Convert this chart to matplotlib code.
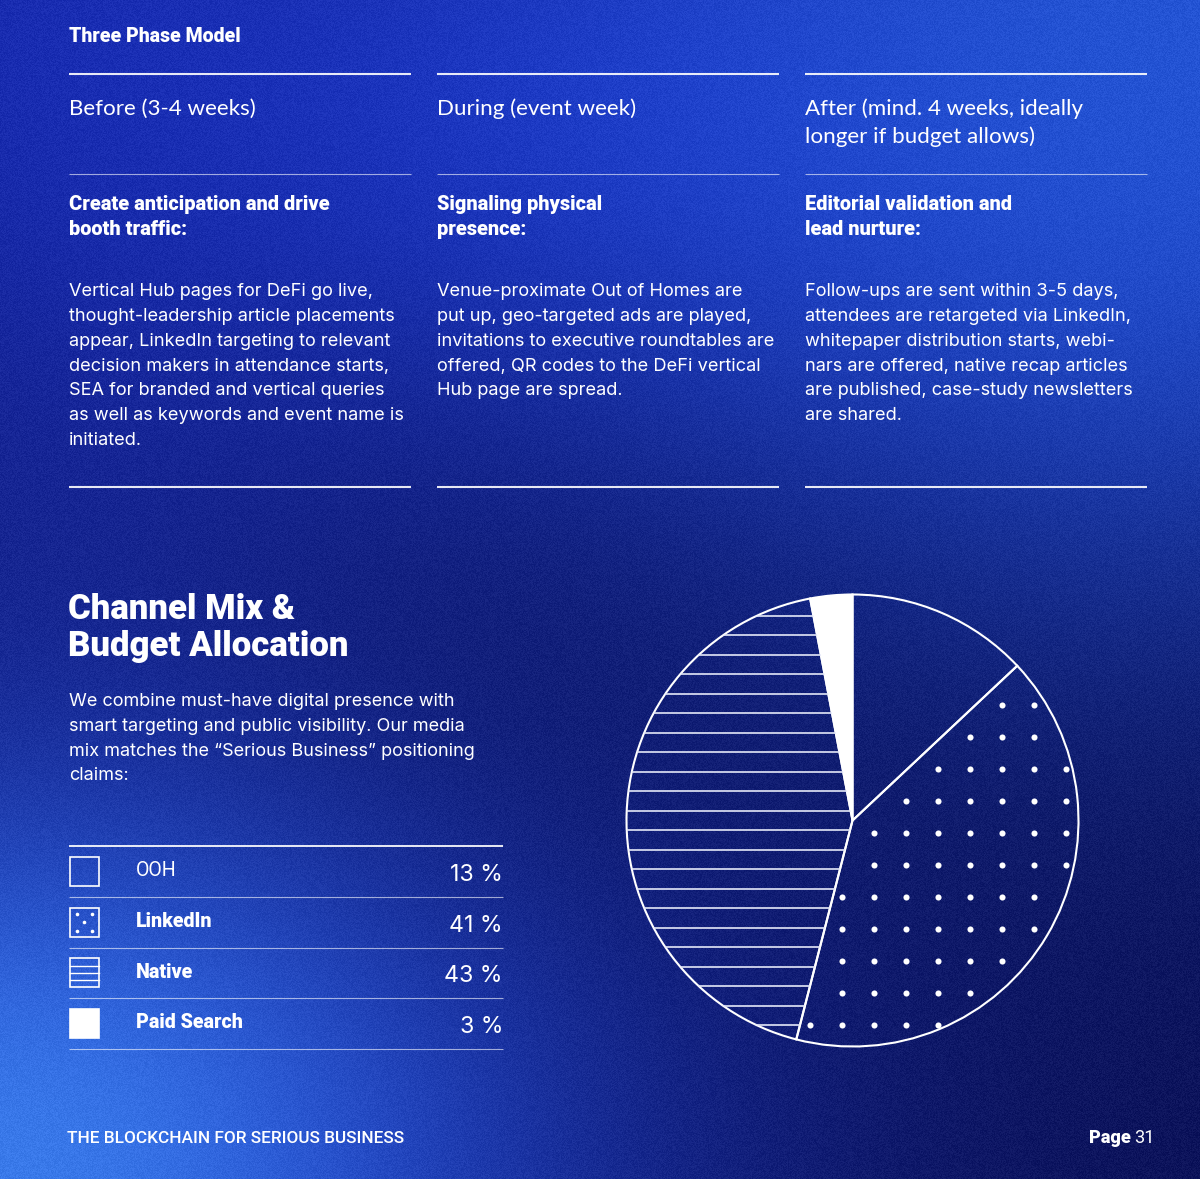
import numpy as np
import matplotlib
matplotlib.use("Agg")
import matplotlib.pyplot as plt
from matplotlib.patches import Rectangle

# ---------------- data ----------------
channels = ["OOH", "LinkedIn", "Native", "Paid Search"]
shares = [13, 41, 43, 3]
share_labels = ["13 %", "41 %", "43 %", "3 %"]
label_bold = [False, True, True, True]

phase_titles = ["Before (3-4 weeks)", "During (event week)",
                "After (mind. 4 weeks, ideally\nlonger if budget allows)"]
phase_subtitles = ["Create anticipation and drive\nbooth traffic:",
                   "Signaling physical\npresence:",
                   "Editorial validation and\nlead nurture:"]
phase_bodies = [
    ["Vertical Hub pages for DeFi go live,",
     "thought-leadership article placements",
     "appear, LinkedIn targeting to relevant",
     "decision makers in attendance starts,",
     "SEA for branded and vertical queries",
     "as well as keywords and event name is",
     "initiated."],
    ["Venue-proximate Out of Homes are",
     "put up, geo-targeted ads are played,",
     "invitations to executive roundtables are",
     "offered, QR codes to the DeFi vertical",
     "Hub page are spread."],
    ["Follow-ups are sent within 3-5 days,",
     "attendees are retargeted via LinkedIn,",
     "whitepaper distribution starts, webi-",
     "nars are offered, native recap articles",
     "are published, case-study newsletters",
     "are shared."],
]
section_title = "Three Phase Model"
heading_lines = ["Channel Mix &", "Budget Allocation"]
para_lines = ["We combine must-have digital presence with",
              "smart targeting and public visibility. Our media",
              "mix matches the \u201cSerious Business\u201d positioning",
              "claims:"]
footer_left = "THE BLOCKCHAIN FOR SERIOUS BUSINESS"
footer_page = "31"

# ---------------- figure ----------------
W, H = 1200, 1179
fig = plt.figure(figsize=(W / 100, H / 100), dpi=100)
ax = fig.add_axes([0, 0, 1, 1])
ax.set_xlim(0, W)
ax.set_ylim(H, 0)
ax.axis("off")

# background gradient
yy, xx = np.mgrid[0:H, 0:W].astype(float)
img = np.zeros((H, W, 3))
img[:] = np.array([11, 15, 80]) / 255.0


def blob(cx, cy, sx, sy, col, strength=1.0):
    global img
    w = strength * np.exp(-(((xx - cx) / sx) ** 2 + ((yy - cy) / sy) ** 2) / 2)
    img = img * (1 - w[..., None]) + (np.array(col) / 255.0) * w[..., None]


blob(0, 520, 250, 260, (20, 30, 125), 0.8)
blob(0, 0, 380, 300, (24, 40, 165), 0.9)
blob(780, 90, 650, 260, (27, 50, 196), 1.0)
blob(1200, 0, 420, 430, (36, 84, 212), 1.0)
blob(0, 1179, 500, 330, (30, 60, 205), 1.0)
blob(0, 1179, 260, 220, (58, 122, 234), 1.0)
noise = np.sin(xx * 12.9898 + yy * 78.233) * 43758.5453
noise = noise - np.floor(noise) - 0.5
img = np.clip(img + noise[..., None] * 0.06, 0, 1)
ax.imshow(img, extent=[0, W, H, 0], aspect="auto", zorder=0, interpolation="bilinear")

renderer = fig.canvas.get_renderer()


def fit(s, family, weight, target):
    t = ax.text(0, 0, s, fontsize=20, family=family, weight=weight)
    w = t.get_window_extent(renderer).width
    t.remove()
    return 20 * target / w


BODY = ["Inter", "DejaVu Sans"]
BOLD = ["Roboto", "DejaVu Sans"]
TITLE = ["Lato", "DejaVu Sans"]
HW = 900  # heavy weight

fs_body = fit("thought-leadership article placements", BODY, "normal", 327)
fs_sub = fit("Create anticipation and drive", BOLD, HW, 261)
fs_title = fit("Before (3-4 weeks)", TITLE, "normal", 187)
fs_head = fit("Budget Allocation", BOLD, HW, 281)
fs_para = fit("mix matches the \u201cSerious Business\u201d positioning", BODY, "normal", 406)
fs_sec = fit(section_title, BOLD, HW, 172)
fs_foot = fit(footer_left, ["Roboto", "DejaVu Sans"], "medium", 337)
fs_pct = fit("13 %", BODY, "normal", 53)
fs_lab = fit("Paid Search", BOLD, HW, 107)

white = "#ffffff"

# section title
ax.text(69, 42, section_title, fontsize=fs_sec, family=BOLD, weight=HW,
        color=white, va="baseline")

col_x = [69, 437, 805]
col_w = 342
for i, x0 in enumerate(col_x):
    ax.plot([x0, x0 + col_w], [73.5, 73.5], color=white, lw=1.5, alpha=0.9, solid_capstyle="butt")
    ax.plot([x0, x0 + col_w], [173.5, 173.5], color=white, lw=0.8, alpha=0.6, solid_capstyle="butt")
    ax.plot([x0, x0 + col_w], [486.5, 486.5], color=white, lw=1.5, alpha=0.9, solid_capstyle="butt")
    for k, line in enumerate(phase_titles[i].split("\n")):
        ax.text(x0, 115 + 28 * k, line, fontsize=fs_title, family=TITLE,
                color=white, va="baseline")
    for k, line in enumerate(phase_subtitles[i].split("\n")):
        ax.text(x0, 210.5 + 24.5 * k, line, fontsize=fs_sub, family=BOLD,
                weight=HW, color=white, va="baseline")
    for k, line in enumerate(phase_bodies[i]):
        ax.text(x0, 296.5 + 24.7 * k, line, fontsize=fs_body, family=BODY,
                color=white, va="baseline")

# heading + paragraph
for k, line in enumerate(heading_lines):
    ax.text(68, 619 + 37 * k, line, fontsize=fs_head, family=BOLD, weight=HW,
            color=white, va="baseline")
for k, line in enumerate(para_lines):
    ax.text(69, 706.5 + 24.5 * k, line, fontsize=fs_para, family=BODY,
            color=white, va="baseline")

# legend table
row_lines = [846, 897, 947.5, 998, 1048.5]
for k, yl in enumerate(row_lines):
    ax.plot([69, 503], [yl, yl], color=white, lw=1.4 if k == 0 else 0.8,
            alpha=0.9 if k == 0 else 0.6, solid_capstyle="butt")
for i, name in enumerate(channels):
    yc = (row_lines[i] + row_lines[i + 1]) / 2
    sx, sy, s = 69.5, yc - 14.5, 29
    if i == 3:
        ax.add_patch(Rectangle((sx, sy), s, s, facecolor=white, edgecolor=white, lw=1.2))
    else:
        ax.add_patch(Rectangle((sx, sy), s, s, facecolor="none", edgecolor=white, lw=1.2))
    if i == 1:
        for dx, dy in [(7, 6), (22, 6), (14.5, 14.5), (7, 23), (22, 23)]:
            ax.plot(sx + dx, sy + dy, "o", color=white, ms=2.6, mew=0)
    if i == 2:
        for f in (0.25, 0.5, 0.75):
            ax.plot([sx, sx + s], [sy + s * f, sy + s * f], color=white, lw=1.0)
    ax.text(136, yc + 5, name, fontsize=fs_lab, family=BOLD,
            weight=HW if label_bold[i] else "normal", color=white, va="baseline")
    ax.text(503, yc + 9.5, share_labels[i], fontsize=fs_pct, family=BODY,
            color=white, va="baseline", ha="right")

# footer
ax.text(67, 1143, footer_left, fontsize=fs_foot, family=["Roboto", "DejaVu Sans"],
        weight="medium", color=white, va="baseline")
tp = ax.text(1155, 1143, footer_page, fontsize=fs_foot * 1.05, family=["Roboto", "DejaVu Sans"],
             color=white, va="baseline", ha="right")
wp = tp.get_window_extent(renderer).width
ax.text(1155 - wp - 4, 1143, "Page", fontsize=fs_foot * 1.05, family=BOLD, weight=HW,
        color=white, va="baseline", ha="right")

# ---------------- pie ----------------
cx, cy, R = 852.5, 820.5, 226
pad = 12
pax = fig.add_axes([(cx - R - pad) / W, 1 - (cy + R + pad) / H,
                    (2 * R + 2 * pad) / W, (2 * R + 2 * pad) / H])
pax.axis("off")
pax.patch.set_alpha(0)
wedges, _ = pax.pie(shares, startangle=90, counterclock=False, radius=R,
                    colors=["none", "none", "none", white],
                    wedgeprops=dict(edgecolor=white, linewidth=1.5))
pax.set_xlim(-R - pad, R + pad)
pax.set_ylim(-R - pad, R + pad)
pax.set_aspect("equal")

# native: horizontal line hatch clipped to wedge
native = wedges[2]
for k in range(-12, 12):
    yl = 9.75 + 19.5 * k
    ln, = pax.plot([-R, R], [yl, yl], color="#e4e8f8", lw=1.2, zorder=1)
    ln.set_clip_path(native)

# linkedin: dot grid inside wedge
lk = wedges[1]
a_lo, a_hi = np.radians(lk.theta1), np.radians(lk.theta2)
dxs, dys = [], []
for i in range(-3, 8):
    for j in range(-6, 7):
        px = 21.3 + 32 * i
        py = -(12.7 + 32 * j)
        r = np.hypot(px, py)
        if r > R - 3.5 or r < 1:
            continue
        phi = np.arctan2(py, px)
        while phi < a_lo:
            phi += 2 * np.pi
        while phi >= a_lo + 2 * np.pi:
            phi -= 2 * np.pi
        if phi > a_hi:
            continue
        d1 = r * np.sin(min(phi - a_lo, np.pi / 2))
        d2 = r * np.sin(min(a_hi - phi, np.pi / 2))
        if d1 < 5 or d2 < 5:
            continue
        dxs.append(px)
        dys.append(py)
pax.plot(dxs, dys, "o", color=white, ms=4.4, mew=0, zorder=2)

fig.savefig("out.png", dpi=100)
